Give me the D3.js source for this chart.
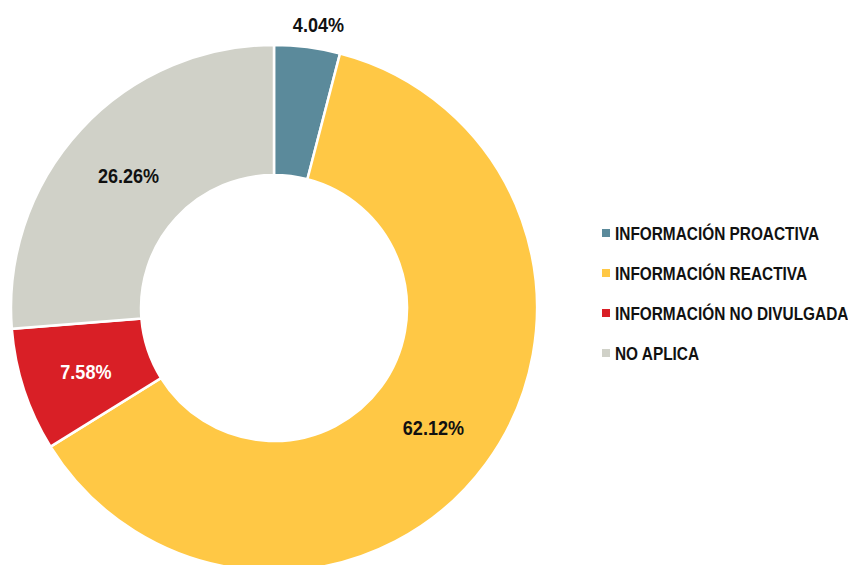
<!DOCTYPE html>
<html><head><meta charset="utf-8">
<script src="https://cdn.jsdelivr.net/npm/d3@7"></script>
<style>
body{margin:0;background:#fff;}
text{font-family:"Liberation Sans Narrow","Arial Narrow","Liberation Sans",Arial,sans-serif;font-weight:bold;}
</style></head>
<body><svg id="c" width="848" height="565"></svg>
<script>
const categories = ["INFORMACIÓN PROACTIVA","INFORMACIÓN REACTIVA","INFORMACIÓN NO DIVULGADA","NO APLICA"];
const values = [4.04, 62.12, 7.58, 26.26];
const labels = ["4.04%","62.12%","7.58%","26.26%"];
const colors = ["#5B8A9B","#FFC845","#D91F26","#D0D1C8"];
const labelColors = ["#111","#111","#fff","#111"];
const squeeze = 0.86;

const svg = d3.select("#c");
const cx = 274, cy = 308, rOuter = 263, rInner = 133;
const g = svg.append("g").attr("transform", `translate(${cx},${cy})`);
const pie = d3.pie().sort(null).value(d => d);
const arcs = pie(values);
const arc = d3.arc().innerRadius(rInner).outerRadius(rOuter);
g.selectAll("path").data(arcs).enter().append("path")
  .attr("d", arc).attr("fill", (d,i) => colors[i])
  .attr("stroke", "#fff").attr("stroke-width", 2.5);

const labelArc = d3.arc().innerRadius(198).outerRadius(198);
const outArc = d3.arc().innerRadius(288).outerRadius(288);
g.selectAll("text.lbl").data(arcs).enter().append("text")
  .attr("class","lbl")
  .attr("transform", (d,i) => {
    const p = (i===0 ? outArc : labelArc).centroid(d);
    if (i===0) p[0] += 8;
    return `translate(${p[0]},${p[1]+2}) scale(${squeeze},1)`;
  })
  .attr("text-anchor","middle").attr("dominant-baseline","central")
  .attr("font-size", 21).attr("fill", (d,i) => labelColors[i])
  .text((d,i) => labels[i]);

const leg = svg.append("g").attr("transform","translate(602,233)");
const rows = leg.selectAll("g").data(categories).enter().append("g")
  .attr("transform", (d,i) => `translate(0,${i*40})`);
rows.append("rect").attr("x",0).attr("y",-4).attr("width",8).attr("height",8)
  .attr("fill", (d,i) => colors[i]);
rows.append("text").attr("transform",`translate(13,0.5) scale(0.88,1)`)
  .attr("dominant-baseline","central")
  .attr("font-size",17.5).attr("fill","#111").text(d => d);
</script></body></html>
